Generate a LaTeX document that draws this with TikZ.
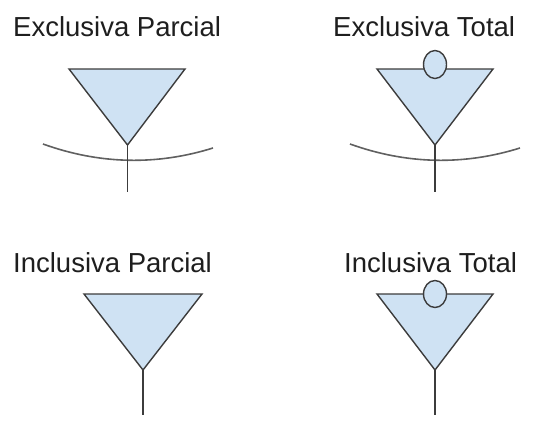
\documentclass[tikz,border=0pt]{standalone}
\usepackage{fontspec}
\setmainfont{Liberation Sans}
\usetikzlibrary{shapes.geometric}
\definecolor{paleblue}{HTML}{CFE2F3}
\definecolor{edge}{HTML}{3C3C3C}
\definecolor{arcgray}{HTML}{606060}
\definecolor{ink}{HTML}{1E1E1E}

\tikzset{
  lbl/.style={anchor=base west,inner sep=0pt,text=ink,
              font=\fontsize{27.5}{30}\selectfont},
  tri/.style={draw=edge,fill=paleblue,line width=1.4pt,line join=miter},
  stem/.style={draw=edge,line width=1.4pt},
  disj/.style={draw=arcgray,line width=1.6pt},
  totalmk/.style={ellipse,draw=edge,fill=paleblue,line width=1.4pt,
                  inner sep=0pt,minimum width=23pt,minimum height=28pt}
}

\begin{document}
\begin{tikzpicture}[x=1pt,y=-1pt]
  \useasboundingbox (0,0) rectangle (535,428);

  % labels
  \node[lbl] (ep-t) at (13,37)  {Exclusiva Parcial};
  \node[lbl] (et-t) at (333,37) {Exclusiva Total};
  \node[lbl] (ip-t) at (13,272) {Inclusiva Parcial};
  \node[lbl] (it-t) at (344,272) {Inclusiva Total};

  % exclusiva parcial
  \coordinate (ep-a) at (127.5,145);
  \coordinate (ep-e) at (127.5,192);
  \path[tri] (69,69) -- (185,69) -- (ep-a) -- cycle;
  \draw[disj] (43,144) .. controls (100,164.5) and (157,165.5) .. (213,148);
  \draw[stem] (ep-a) -- (ep-e);

  % exclusiva total
  \coordinate (et-a) at (435,145);
  \coordinate (et-e) at (435,192);
  \path[tri] (377,69) -- (493,69) -- (et-a) -- cycle;
  \node[totalmk] (et-m) at (435,64.5) {};
  \draw[disj] (350,144) .. controls (407,164.5) and (464,165.5) .. (520,148);
  \draw[stem] (et-a) -- (et-e);

  % inclusiva parcial
  \coordinate (ip-a) at (143,370);
  \coordinate (ip-e) at (143,415);
  \path[tri] (84,294) -- (202,294) -- (ip-a) -- cycle;
  \draw[stem] (ip-a) -- (ip-e);

  % inclusiva total
  \coordinate (it-a) at (435,370);
  \coordinate (it-e) at (435,415);
  \path[tri] (377,294) -- (493,294) -- (it-a) -- cycle;
  \node[totalmk,minimum height=27pt] (it-m) at (435,294) {};
  \draw[stem] (it-a) -- (it-e);
\end{tikzpicture}
\end{document}
